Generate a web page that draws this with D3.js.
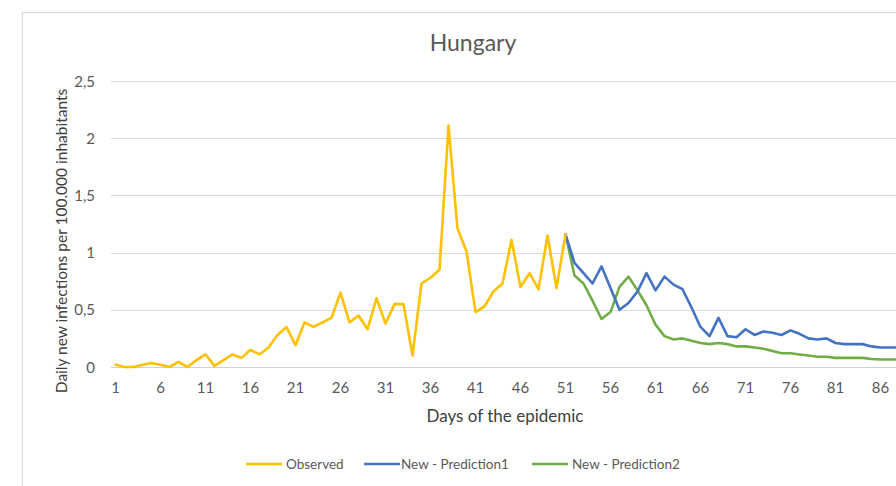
<!DOCTYPE html>
<html>
<head>
<meta charset="utf-8">
<script src="https://cdn.jsdelivr.net/npm/d3@7"></script>
<style>
  body { margin: 0; background: #fff; }
  svg { display: block; font-family: Lato, "Open Sans", sans-serif; }
</style>
</head>
<body>
<div id="chart"></div>
<script>
const width = 896, height = 486;

// day numbers where each series starts
const observedStart = 1;
const predictionStart = 51;

const observed = [0.02, 0, 0, 0.02, 0.035, 0.02, 0, 0.045, 0, 0.06,
  0.11, 0.01, 0.06, 0.11, 0.08, 0.15, 0.11, 0.17, 0.28, 0.35,
  0.19, 0.39, 0.35, 0.39, 0.43, 0.65, 0.39, 0.45, 0.33, 0.6,
  0.38, 0.55, 0.55, 0.1, 0.73, 0.78, 0.85, 2.11, 1.21, 1.01,
  0.48, 0.53, 0.66, 0.73, 1.11, 0.7, 0.82, 0.68, 1.15, 0.69,
  1.16];

const prediction1 = [1.16, 0.91, 0.82, 0.73, 0.88, 0.69, 0.5, 0.56, 0.66, 0.82,
  0.67, 0.79, 0.72, 0.68, 0.52, 0.35, 0.27, 0.43, 0.27, 0.26,
  0.33, 0.28, 0.31, 0.3, 0.28, 0.32, 0.29, 0.25, 0.24, 0.25,
  0.21, 0.2, 0.2, 0.2, 0.18, 0.17, 0.17, 0.17];

const prediction2 = [1.16, 0.8, 0.73, 0.58, 0.42, 0.48, 0.7, 0.79, 0.67, 0.54,
  0.37, 0.27, 0.24, 0.25, 0.23, 0.21, 0.2, 0.21, 0.2, 0.18,
  0.18, 0.17, 0.16, 0.14, 0.12, 0.12, 0.11, 0.1, 0.09, 0.09,
  0.08, 0.08, 0.08, 0.08, 0.07, 0.065, 0.065, 0.065];

const xTicks = [1, 6, 11, 16, 21, 26, 31, 36, 41, 46, 51, 56, 61, 66, 71, 76, 81, 86];
const yTicks = [0, 0.5, 1, 1.5, 2, 2.5];

const seriesNames = ["Observed", "New - Prediction1", "New - Prediction2"];
const colors = ["#FFC000", "#4472C4", "#70AD47"];

const nDays = 90;
const step = 9.0;
const left = 115.5 - step / 2;

const x = d3.scaleLinear().domain([0.5, nDays + 0.5]).range([left, left + nDays * step]);
const y = d3.scaleLinear().domain([0, 2.5]).range([367, 81]);

const svg = d3.select("#chart").append("svg")
  .attr("width", width)
  .attr("height", height);

// chart frame
svg.append("rect")
  .attr("x", 22.5).attr("y", 12.5)
  .attr("width", 1000).attr("height", 1000)
  .attr("fill", "none")
  .attr("stroke", "#D9D9D9");

// gridlines
svg.append("g")
  .selectAll("line")
  .data(yTicks)
  .enter().append("line")
  .attr("x1", left).attr("x2", left + nDays * step)
  .attr("y1", d => Math.round(y(d)) + 0.5)
  .attr("y2", d => Math.round(y(d)) + 0.5)
  .attr("stroke", d => d === 0 ? "#D0D0D0" : "#D9D9D9")
  .attr("stroke-width", 1);

// y labels
svg.append("g")
  .selectAll("text")
  .data(yTicks)
  .enter().append("text")
  .attr("x", 95)
  .attr("y", d => y(d) + 5.5)
  .attr("text-anchor", "end")
  .attr("fill", "#595959")
  .style("font-size", "15px")
  .text(d => String(d).replace(".", ","));

// x labels
svg.append("g")
  .selectAll("text")
  .data(xTicks)
  .enter().append("text")
  .attr("x", d => x(d))
  .attr("y", 393)
  .attr("text-anchor", "middle")
  .attr("fill", "#595959")
  .style("font-size", "15px")
  .text(d => d);

const line = d3.line()
  .x(d => x(d.day))
  .y(d => y(d.value));

const seriesData = [
  observed.map((v, i) => ({day: observedStart + i, value: v})),
  prediction1.map((v, i) => ({day: predictionStart + i, value: v})),
  prediction2.map((v, i) => ({day: predictionStart + i, value: v}))
];

// draw green, blue, then yellow on top at the junction
[2, 1, 0].forEach(function(i) {
  svg.append("path")
    .datum(seriesData[i])
    .attr("d", line)
    .attr("fill", "none")
    .attr("stroke", colors[i])
    .attr("stroke-width", 2.6)
    .attr("stroke-linejoin", "round")
    .attr("stroke-linecap", "round");
});

// title
svg.append("text")
  .attr("x", 473)
  .attr("y", 51)
  .attr("text-anchor", "middle")
  .attr("fill", "#595959")
  .style("font-size", "23px")
  .text("Hungary");

// axis titles
svg.append("text")
  .attr("x", 505)
  .attr("y", 422)
  .attr("text-anchor", "middle")
  .attr("fill", "#404040")
  .style("font-size", "17px")
  .text("Days of the epidemic");

svg.append("text")
  .attr("transform", "translate(67, 241) rotate(-90)")
  .attr("text-anchor", "middle")
  .attr("fill", "#404040")
  .style("font-size", "15.5px")
  .text("Daily new infections per 100.000 inhabitants");

// legend
const legendX = [246, 364, 532];
const legend = svg.append("g")
  .selectAll("g")
  .data(seriesNames)
  .enter().append("g")
  .attr("transform", (d, i) => `translate(${legendX[i]}, 464)`);

legend.append("line")
  .attr("x1", 0).attr("x2", 36)
  .attr("stroke", (d, i) => colors[i])
  .attr("stroke-width", 2.6);

legend.append("text")
  .attr("x", (d, i) => i === 0 ? 40 : (i === 1 ? 37 : 40))
  .attr("y", 5)
  .attr("fill", "#595959")
  .style("font-size", "13.5px")
  .text(d => d);
</script>
</body>
</html>
